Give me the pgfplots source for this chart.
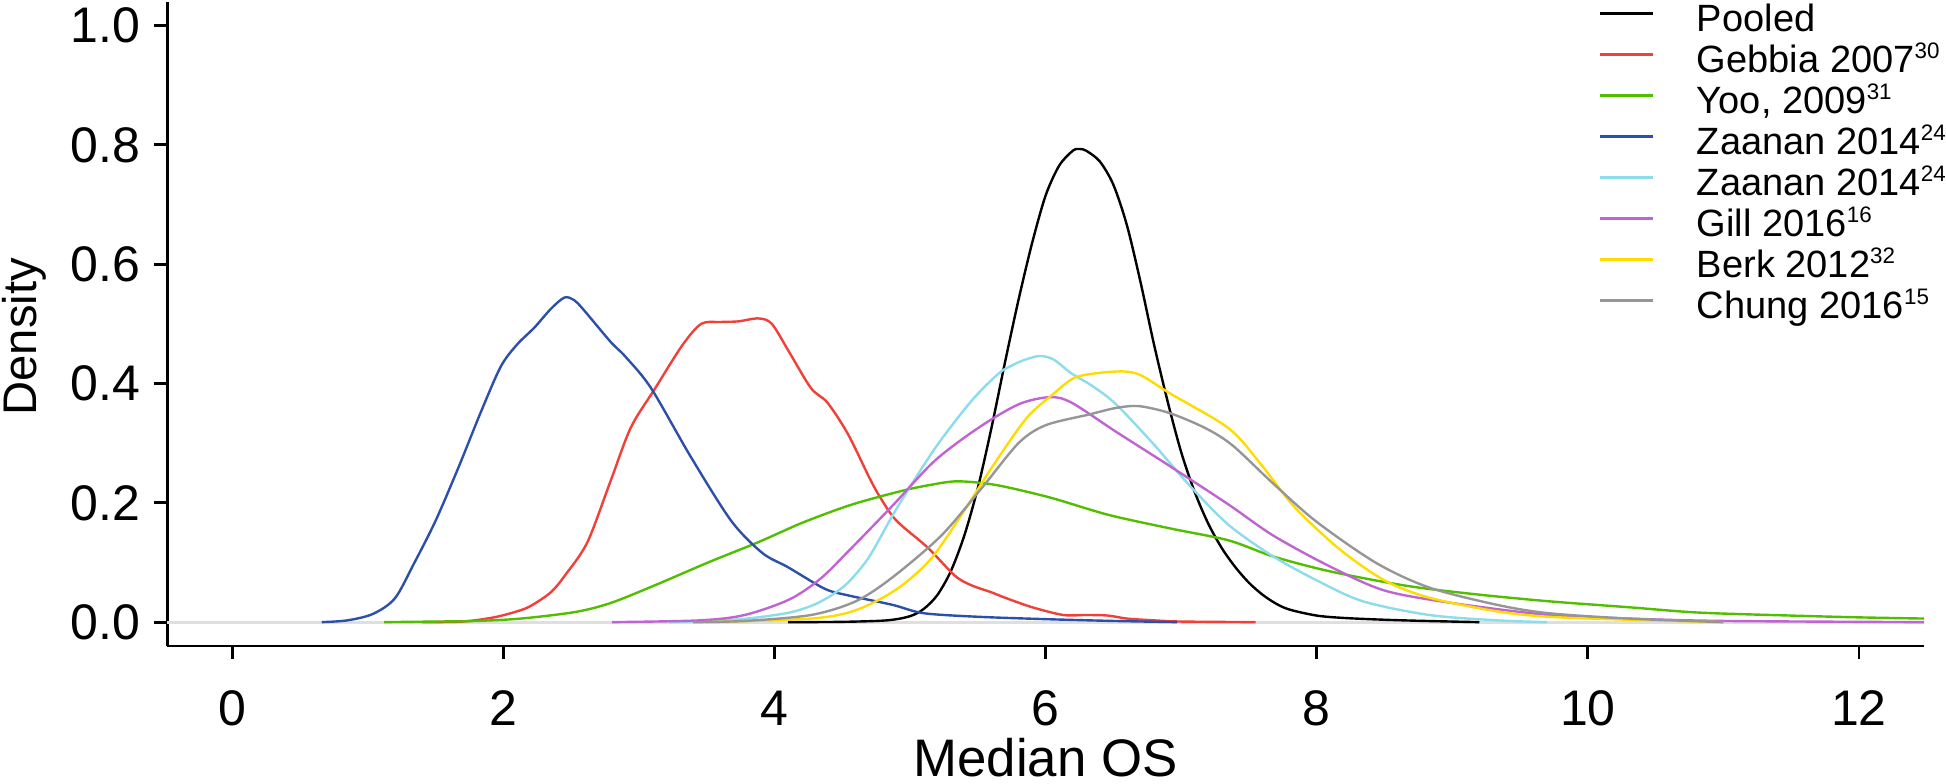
\documentclass[border=0pt]{standalone}
\usepackage{fontspec}
\setmainfont{Liberation Sans}
\usepackage{pgfplots}
\pgfplotsset{compat=1.18}
\definecolor{cRed}{RGB}{240,64,56}
\definecolor{cGreen}{RGB}{82,190,0}
\definecolor{cBlue}{RGB}{44,80,170}
\definecolor{cCyan}{RGB}{140,220,235}
\definecolor{cPurple}{RGB}{192,100,210}
\definecolor{cYellow}{RGB}{255,220,0}
\definecolor{cGray}{RGB}{150,150,150}
\newcommand{\sups}[1]{\raisebox{3.5pt}{\fontsize{5.6}{6}\selectfont #1}}
\begin{document}
\begin{tikzpicture}
\begin{axis}[
  scale only axis, width=439.2pt, height=161.1pt,
  at={(0,0)}, anchor=south west,
  xmin=-0.48, xmax=12.48, ymin=-0.04, ymax=1.04,
  axis x line*=bottom, axis y line*=left,
  axis line style={-, line width=0.7pt},
  xtick={0,2,...,12}, ytick={0,0.2,0.4,0.6,0.8,1.0},
  tick align=outside, major tick length=3.3pt,
  tick style={line width=0.7pt, black},
  /pgf/number format/assume math mode=true,
  xticklabel style={font=\fontsize{12.5}{14}\selectfont, anchor=base, yshift=-16.5pt},
  yticklabel style={font=\fontsize{12.5}{14}\selectfont, anchor=east, inner sep=0pt, xshift=-3.2pt,
     /pgf/number format/.cd, fixed, fixed zerofill, precision=1},
  xlabel={Median OS}, ylabel={Density},
  every axis x label/.style={at={(axis description cs:0.5,-0.203)}, anchor=base, font=\fontsize{13.2}{15}\selectfont},
  every axis y label/.style={at={(axis description cs:-0.0746,0.48)}, rotate=90, anchor=base, font=\fontsize{11.8}{14}\selectfont},
  legend style={at={(axis description cs:0.8144,0.994)}, anchor=north west, draw=none, fill=none,
     inner sep=0pt, column sep=10.6pt, row sep=1.95pt, font=\fontsize{9.5}{10}\selectfont,
     nodes={inner sep=0pt, text height=6.3pt, text depth=2pt}},
  legend cell align=left,
  legend image code/.code={\draw[#1, line width=0.7pt] (0pt,2.4pt) -- (13.25pt,2.4pt);},
]
\addplot[gray!25, line width=0.7pt, forget plot] coordinates {(-0.48,0) (12.48,0)};
% Pooled
\addplot[black, line width=0.6pt, smooth] coordinates {
(4.1,0) (4.5,0.0005) (4.83,0.003) (5.0,0.01) (5.1,0.022) (5.2,0.045) (5.3,0.085) (5.4,0.145) (5.5,0.225) (5.6,0.325) (5.7,0.435) (5.8,0.54) (5.9,0.635) (6.0,0.715) (6.1,0.765) (6.2,0.79) (6.25,0.793) (6.3,0.79) (6.4,0.772) (6.5,0.733) (6.6,0.665) (6.7,0.57) (6.8,0.465) (6.9,0.37) (7.0,0.285) (7.1,0.218) (7.2,0.165) (7.3,0.124) (7.4,0.092) (7.5,0.066) (7.6,0.046) (7.7,0.031) (7.8,0.021) (8.0,0.011) (8.2,0.007) (8.5,0.004) (8.8,0.002) (9.2,0)};
% Gebbia
\addplot[cRed, line width=0.6pt, smooth] coordinates {
(1.4,0) (1.7,0.001) (1.93,0.008) (2.1,0.018) (2.2,0.027) (2.35,0.05) (2.46,0.08) (2.62,0.134) (2.79,0.236) (2.94,0.326) (3.12,0.392) (3.32,0.464) (3.46,0.50) (3.6,0.503) (3.73,0.504) (3.88,0.509) (3.98,0.50) (4.11,0.452) (4.27,0.392) (4.39,0.368) (4.54,0.316) (4.7,0.242) (4.78,0.209) (4.9,0.17) (5.13,0.125) (5.33,0.078) (5.45,0.062) (5.6,0.05) (5.7,0.041) (5.9,0.025) (6.13,0.012) (6.3,0.012) (6.46,0.011) (6.6,0.006) (6.8,0.003) (7.0,0.001) (7.55,0)};
% Yoo
\addplot[cGreen, line width=0.6pt, smooth] coordinates {
(1.12,0) (1.5,0.001) (1.8,0.002) (2.13,0.006) (2.53,0.017) (2.79,0.032) (3.12,0.062) (3.51,0.10) (3.88,0.134) (4.21,0.167) (4.57,0.197) (4.94,0.22) (5.15,0.23) (5.35,0.236) (5.63,0.23) (6.03,0.209) (6.46,0.18) (6.92,0.157) (7.35,0.137) (7.68,0.11) (8.1,0.085) (8.66,0.061) (9.16,0.047) (9.71,0.035) (10.3,0.025) (10.82,0.016) (11.5,0.011) (12.0,0.008) (12.48,0.006)};
% Zaanan 1
\addplot[cBlue, line width=0.6pt, smooth] coordinates {
(0.66,0) (0.85,0.003) (1.04,0.014) (1.2,0.04) (1.34,0.098) (1.5,0.17) (1.67,0.26) (1.83,0.35) (1.98,0.428) (2.1,0.465) (2.23,0.494) (2.35,0.525) (2.45,0.544) (2.52,0.54) (2.59,0.524) (2.79,0.47) (2.9,0.445) (3.09,0.392) (3.38,0.278) (3.68,0.17) (3.91,0.116) (4.1,0.092) (4.37,0.056) (4.54,0.045) (4.87,0.029) (5.1,0.015) (5.5,0.009) (6.0,0.005) (6.5,0.002) (6.97,0)};
% Zaanan 2
\addplot[cCyan, line width=0.6pt, smooth] coordinates {
(3.22,0) (3.51,0.002) (3.8,0.006) (4.11,0.016) (4.3,0.03) (4.44,0.048) (4.55,0.068) (4.7,0.11) (4.9,0.19) (5.18,0.29) (5.45,0.37) (5.65,0.416) (5.75,0.43) (5.85,0.44) (5.96,0.446) (6.06,0.44) (6.19,0.417) (6.35,0.395) (6.52,0.365) (6.79,0.30) (7.05,0.232) (7.35,0.163) (7.68,0.11) (8.0,0.07) (8.34,0.035) (8.83,0.012) (9.33,0.003) (9.7,0)};
% Gill
\addplot[cPurple, line width=0.6pt, smooth] coordinates {
(2.8,0) (3.45,0.003) (3.78,0.012) (4.11,0.038) (4.34,0.073) (4.55,0.12) (4.87,0.195) (5.18,0.27) (5.5,0.325) (5.8,0.365) (6.03,0.377) (6.19,0.368) (6.52,0.319) (6.92,0.261) (7.35,0.197) (7.68,0.145) (8.1,0.093) (8.5,0.053) (9.0,0.032) (9.71,0.012) (10.3,0.006) (11,0.002) (12.48,0)};
% Berk
\addplot[cYellow, line width=0.6pt, smooth] coordinates {
(3.49,0) (4.27,0.006) (4.6,0.02) (4.9,0.055) (5.15,0.105) (5.38,0.18) (5.62,0.265) (5.86,0.342) (6.06,0.383) (6.23,0.411) (6.52,0.42) (6.69,0.415) (6.92,0.383) (7.35,0.325) (7.58,0.267) (7.84,0.192) (8.17,0.122) (8.5,0.07) (8.83,0.041) (9.33,0.018) (9.71,0.009) (10.3,0.004) (11.0,0)};
% Chung
\addplot[cGray, line width=0.6pt, smooth] coordinates {
(3.4,0) (3.78,0.002) (4.27,0.012) (4.6,0.035) (4.87,0.075) (5.23,0.145) (5.53,0.225) (5.8,0.30) (6.0,0.33) (6.32,0.348) (6.52,0.359) (6.69,0.362) (6.92,0.35) (7.18,0.325) (7.38,0.296) (7.68,0.232) (8.0,0.168) (8.44,0.099) (8.83,0.058) (9.33,0.029) (9.71,0.015) (10.3,0.006) (11.0,0)};
\legend{Pooled, Gebbia 2007\sups{30}, {Yoo, 2009\sups{31}}, Zaanan 2014\sups{24}, Zaanan 2014\sups{24}, Gill 2016\sups{16}, Berk 2012\sups{32}, Chung 2016\sups{15}}
\end{axis}
\pgfresetboundingbox
\path[use as bounding box] (-41.8pt,-34.25pt) rectangle (444.7pt,161.5pt);
\end{tikzpicture}
\end{document}
